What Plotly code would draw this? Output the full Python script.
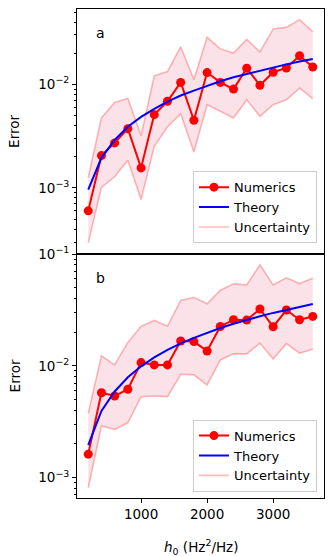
import plotly.graph_objects as go
from plotly.subplots import make_subplots

# ---- data ----
h0 = [200, 400, 600, 800, 1000, 1200, 1400, 1600, 1800, 2000,
      2200, 2400, 2600, 2800, 3000, 3200, 3400, 3600]

# panel a
num_a = [6.0e-4, 2.05e-3, 2.72e-3, 3.73e-3, 1.56e-3, 5.1e-3, 6.86e-3, 1.045e-2, 4.5e-3,
         1.30e-2, 1.045e-2, 9.0e-3, 1.43e-2, 9.8e-3, 1.31e-2, 1.44e-2, 1.89e-2, 1.47e-2]
theory_a = [9.6e-4, 1.95e-3, 2.9e-3, 3.9e-3, 4.85e-3, 5.8e-3, 6.8e-3, 7.8e-3, 8.7e-3,
            9.7e-3, 1.07e-2, 1.17e-2, 1.26e-2, 1.36e-2, 1.46e-2, 1.56e-2, 1.66e-2, 1.76e-2]
upper_a = [1.26e-3, 4.74e-3, 6.7e-3, 7.3e-3, 3.2e-3, 1.21e-2, 1.33e-2, 2.31e-2, 1.11e-2,
           2.85e-2, 2.2e-2, 2.01e-2, 2.72e-2, 2.06e-2, 3.43e-2, 3.55e-2, 4.22e-2, 3.23e-2]
lower_a = [2.94e-4, 1.01e-3, 1.28e-3, 1.85e-3, 7.7e-4, 2.52e-3, 3.9e-3, 5.2e-3, 2.22e-3,
           6.37e-3, 5.5e-3, 4.74e-3, 7.1e-3, 4.9e-3, 6.37e-3, 7.1e-3, 9.2e-3, 7.3e-3]

# panel b
num_b = [1.62e-3, 5.75e-3, 5.37e-3, 6.18e-3, 1.07e-2, 1.02e-2, 1.02e-2, 1.67e-2, 1.65e-2,
         1.36e-2, 2.25e-2, 2.59e-2, 2.57e-2, 3.23e-2, 2.24e-2, 3.16e-2, 2.59e-2, 2.77e-2]
theory_b = [1.95e-3, 3.95e-3, 5.9e-3, 7.9e-3, 9.9e-3, 1.19e-2, 1.39e-2, 1.59e-2, 1.78e-2,
            1.98e-2, 2.18e-2, 2.38e-2, 2.58e-2, 2.78e-2, 2.98e-2, 3.18e-2, 3.38e-2, 3.58e-2]
upper_b = [3.75e-3, 1.23e-2, 1.02e-2, 1.62e-2, 2.26e-2, 2.55e-2, 2.26e-2, 3.86e-2, 4.11e-2,
           3.6e-2, 4.75e-2, 5.42e-2, 5.31e-2, 8.03e-2, 5.31e-2, 6.14e-2, 5.46e-2, 6.08e-2]
lower_b = [8.1e-4, 2.89e-3, 2.7e-3, 3.09e-3, 5.3e-3, 5.37e-3, 5.3e-3, 8.4e-3, 8.3e-3,
           6.75e-3, 1.13e-2, 1.28e-2, 1.28e-2, 1.6e-2, 1.15e-2, 1.58e-2, 1.3e-2, 1.41e-2]

x_ticks = [1000, 2000, 3000]
y_ticks_a = [1e-3, 1e-2]
y_ticklabels_a = ["10<sup>\u22123</sup>", "10<sup>\u22122</sup>"]
y_ticks_b = [1e-3, 1e-2, 1e-1]
y_ticklabels_b = ["10<sup>\u22123</sup>", "10<sup>\u22122</sup>", "10<sup>\u22121</sup>"]

FONT = "DejaVu Sans"
FS = 13.5
RED = "#ff0000"
BLUE = "#0000ff"
FILL = "rgba(242,160,180,0.30)"
ULINE = "rgba(255,0,0,0.27)"

fig = make_subplots(rows=2, cols=1, shared_xaxes=True, vertical_spacing=0)

def add_panel(row, num, th, up, lo, legend):
    # fill
    fig.add_trace(go.Scatter(x=h0, y=lo, mode="lines", line=dict(width=0, color=FILL),
                             showlegend=False, hoverinfo="skip"), row=row, col=1)
    fig.add_trace(go.Scatter(x=h0, y=up, mode="lines", line=dict(width=0, color=FILL),
                             fill="tonexty", fillcolor=FILL, showlegend=False,
                             hoverinfo="skip"), row=row, col=1)
    # uncertainty lines
    fig.add_trace(go.Scatter(x=h0, y=lo, mode="lines", line=dict(width=1.6, color=ULINE),
                             showlegend=False), row=row, col=1)
    fig.add_trace(go.Scatter(x=h0, y=up, mode="lines", line=dict(width=1.6, color=ULINE),
                             name="Uncertainty", legend=legend, legendrank=3), row=row, col=1)
    fig.add_trace(go.Scatter(x=h0, y=num, mode="lines+markers", name="Numerics",
                             line=dict(width=2, color=RED), marker=dict(size=9, color=RED),
                             legend=legend, legendrank=1), row=row, col=1)
    fig.add_trace(go.Scatter(x=h0, y=th, mode="lines", name="Theory",
                             line=dict(width=2, color=BLUE), legend=legend, legendrank=2),
                  row=row, col=1)

add_panel(1, num_a, theory_a, upper_a, lower_a, "legend")
add_panel(2, num_b, theory_b, upper_b, lower_b, "legend2")

minor_vals = [k * 10 ** e for e in range(-4, 0) for k in range(2, 10)]

axis_common = dict(showline=True, linecolor="black", linewidth=1, mirror=True,
                   showgrid=False, zeroline=False, ticks="outside", ticklen=4,
                   tickcolor="black", automargin=False,
                   tickfont=dict(family=FONT, size=FS, color="black"))

fig.update_xaxes(range=[30, 3770], tickvals=x_ticks, **axis_common)
fig.update_xaxes(showticklabels=False, ticks="", row=1, col=1)
fig.update_yaxes(type="log", **axis_common,
                 minor=dict(ticks="outside", ticklen=2, tickcolor="black",
                            tickvals=minor_vals, showgrid=False))
fig.update_yaxes(range=[-3.634, -1.272], tickvals=y_ticks_a, ticktext=y_ticklabels_a,
                 row=1, col=1)
fig.update_yaxes(range=[-3.183, -0.994], tickvals=y_ticks_b, ticktext=y_ticklabels_b,
                 row=2, col=1)

legend_style = dict(bgcolor="rgba(255,255,255,0.85)", bordercolor="#cccccc", borderwidth=1,
                    font=dict(family=FONT, size=13, color="black"),
                    xanchor="right", yanchor="bottom", x=0.9716, traceorder="normal",
                    tracegroupgap=0, itemwidth=30)

fig.update_layout(
    width=333, height=556,
    margin=dict(l=77, r=9, t=9, b=58, autoexpand=False),
    paper_bgcolor="white", plot_bgcolor="white",
    font=dict(family=FONT, size=FS, color="black"),
    legend=dict(y=0.521, **legend_style),
    legend2=dict(y=0.013, **legend_style),
    annotations=[
        dict(text="a", xref="paper", yref="paper", x=0.096, y=0.9515, showarrow=False,
             font=dict(family=FONT, size=14), xanchor="center", yanchor="middle"),
        dict(text="b", xref="paper", yref="paper", x=0.096, y=0.4508, showarrow=False,
             font=dict(family=FONT, size=14), xanchor="center", yanchor="middle"),
        dict(text="Error", xref="paper", yref="paper", x=-0.2525, y=0.75, textangle=-90,
             showarrow=False, font=dict(family=FONT, size=FS), xanchor="center",
             yanchor="middle"),
        dict(text="Error", xref="paper", yref="paper", x=-0.2525, y=0.25, textangle=-90,
             showarrow=False, font=dict(family=FONT, size=FS), xanchor="center",
             yanchor="middle"),
        dict(text="<i>h</i><sub>0</sub> (Hz<sup>2</sup>/Hz)", xref="paper", yref="paper",
             x=0.5, y=-0.0997, showarrow=False, font=dict(family=FONT, size=FS),
             xanchor="center", yanchor="middle"),
    ],
)

fig.write_html(
    "out.html",
    config={"displayModeBar": False},
    post_script="document.body.style.margin='0';document.body.style.overflow='hidden';",
)
